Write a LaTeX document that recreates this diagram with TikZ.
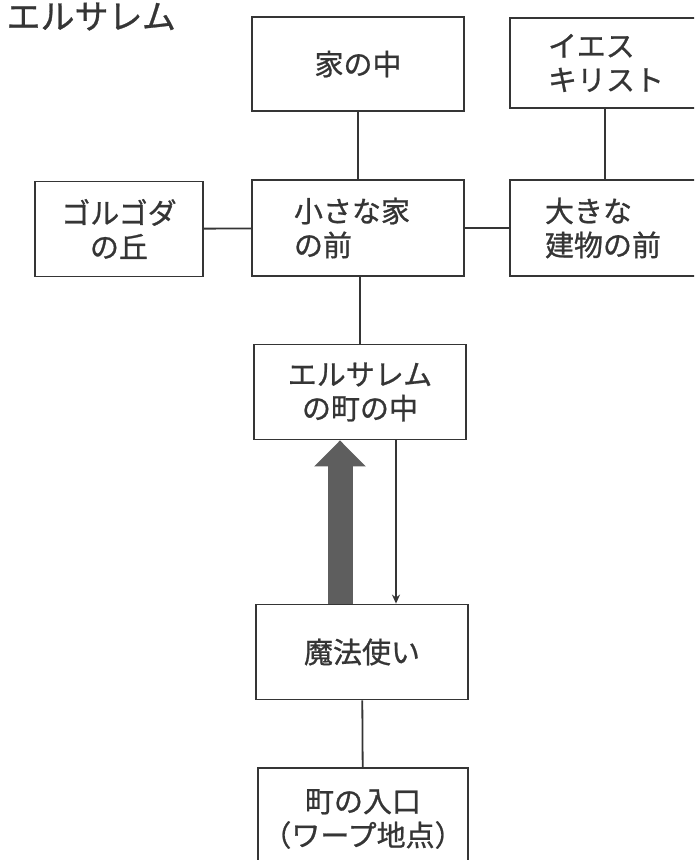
\documentclass[tikz,border=0pt]{standalone}
\usepackage{fontspec}
\newfontfamily\jp[FakeBold=0.8]{Noto Sans CJK JP}
\usetikzlibrary{arrows.meta}
\definecolor{ink}{HTML}{353535}
\definecolor{bigarrow}{HTML}{5E5E5E}
\tikzset{
  box/.style={draw=ink, line width=1.8pt, fill=white, minimum width=212pt, minimum height=94pt, inner sep=0pt,
    font=\jp\fontsize{29pt}{34pt}\selectfont, text=ink},
  lbox/.style={box, align=left, inner xsep=#1, text width=212pt-2*#1},
  link/.style={draw=ink, line width=1.8pt},
}
\begin{document}
\begin{tikzpicture}[x=1pt,y=-1pt]
\useasboundingbox (0,0) rectangle (694,860);
\begin{scope}
\clip (0,0) rectangle (694,860);
\node[anchor=base west, font=\jp\fontsize{34pt}{36pt}\selectfont, text=ink] (title) at (3,29) {エルサレム};
\node[box, align=center] (home) at (358,64) {家の中};
\node[box, minimum width=200pt, minimum height=90pt, align=left, inner xsep=38pt, text width=124pt] (jesus) at (610,63) {イエス\\キリスト};
\node[box, minimum width=168pt, minimum height=95pt, align=center] (golgotha) at (119,229) {ゴルゴダ\\の丘};
\node[box, minimum height=96pt, align=left, inner xsep=42pt, text width=128pt] (small) at (358,228) {小さな家\\の前};
\node[box, minimum width=200pt, minimum height=96pt, align=left, inner xsep=35pt, text width=130pt] (big) at (610,228) {大きな\\建物の前};
\node[box, minimum height=95pt, align=center] (town) at (360,392) {エルサレム\\の町の中};
\node[box, minimum height=95pt, align=center] (wizard) at (362,652) {魔法使い};
\node[box, minimum width=210pt, minimum height=102pt, align=center] (entrance) at (363,819) {町の入口\\（ワープ地点）};
\draw[link] (home) -- (small);
\draw[link] ([xshift=-5pt]jesus.south) -- ([xshift=-5pt]big.north);
\draw[link] (golgotha) -- (small);
\draw[link] (small) -- (big);
\draw[link] (small.south -| town.north) -- (town.north);
\draw[link] (wizard) -- (entrance);
\draw[draw=bigarrow, line width=25pt, -{Triangle[width=50pt,length=26pt]}, bigarrow]
  ([xshift=-22pt]wizard.north) -- ([xshift=-22pt]wizard.north |- town.south);
\draw[draw=ink, line width=1.3pt, -{Stealth[length=9pt,width=8pt]}]
  ([xshift=36pt]town.south) -- ([xshift=36pt]town.south |- wizard.north);
\end{scope}
\end{tikzpicture}
\end{document}
